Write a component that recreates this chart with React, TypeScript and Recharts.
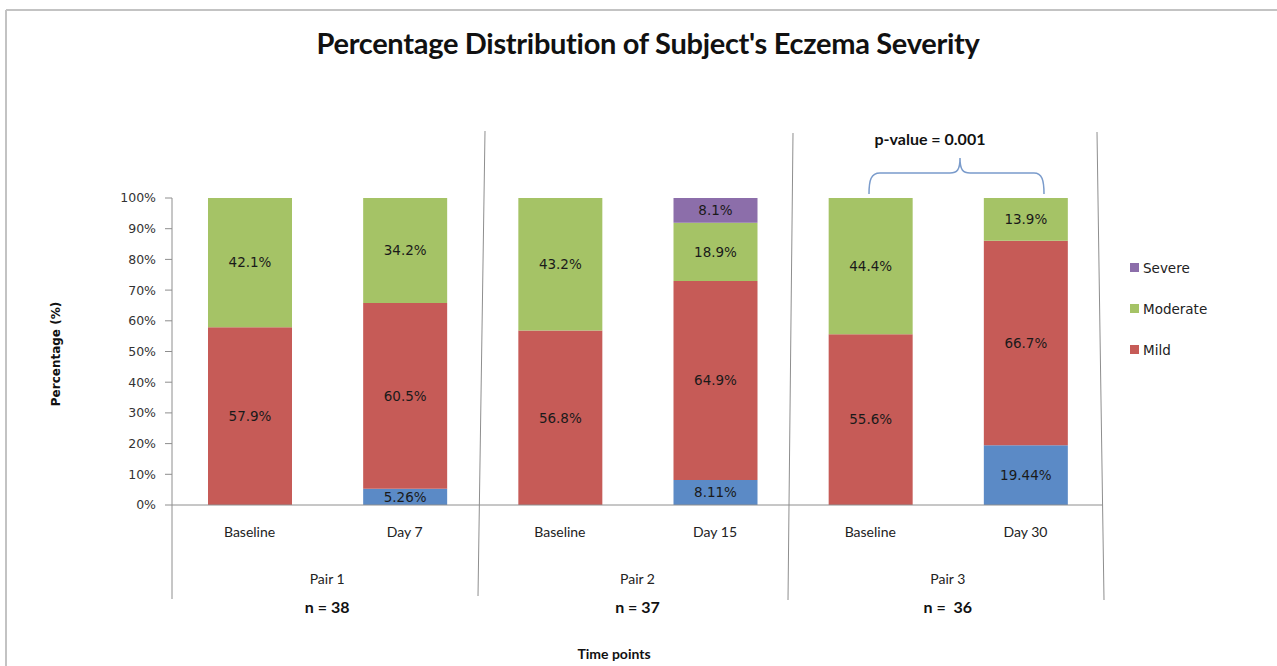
import React from 'react'
import { Bar, BarChart, XAxis, YAxis, LabelList } from 'recharts'

// categories along the bottom, grouped in pairs
const timePoints = ['Baseline', 'Day 7', 'Baseline', 'Day 15', 'Baseline', 'Day 30']
const pairs = ['Pair 1', 'Pair 1', 'Pair 2', 'Pair 2', 'Pair 3', 'Pair 3']
const pairLabels = ['Pair 1', 'Pair 2', 'Pair 3']
const nCounts = ['n = 38', 'n = 37', 'n =  36']

// percentage per severity (blue segment has no legend entry)
const clear = [0, 5.26, 0, 8.11, 0, 19.44]
const mild = [57.9, 60.5, 56.8, 64.9, 55.6, 66.7]
const moderate = [42.1, 34.2, 43.2, 18.9, 44.4, 13.9]
const severe = [0, 0, 0, 8.1, 0, 0]

const yTicks = [0, 0.1, 0.2, 0.3, 0.4, 0.5, 0.6, 0.7, 0.8, 0.9, 1]

const legendItems = [
  { name: 'Severe', color: '#8C6EAA' },
  { name: 'Moderate', color: '#A5C366' },
  { name: 'Mild', color: '#C65B57' },
]

const data = timePoints.map((t, i) => ({
  key: `${pairs[i]}-${t}`,
  time: t,
  pair: pairs[i],
  clear: clear[i],
  mild: mild[i],
  moderate: moderate[i],
  severe: severe[i],
}))

const labelFont = 'DejaVu Sans, Verdana, sans-serif'
const calibri = 'Lato, "Open Sans", sans-serif'
const axisGray = '#8E8E8E'

const fmt = (v: any) => (v ? `${v}%` : '')

const TimeTick = (props: any) => {
  const { x, y, payload } = props
  const idx = payload.index
  return (
    <text x={x} y={y + 24} textAnchor="middle" fontFamily={calibri} fontSize={14} fill="#222">
      {timePoints[idx] ?? payload.value}
    </text>
  )
}

const PairTick = (props: any) => {
  const { x, y, payload } = props
  const i = pairLabels.indexOf(payload.value)
  return (
    <g>
      <text x={x} y={y + 16} textAnchor="middle" fontFamily={calibri} fontSize={14} fill="#222">
        {payload.value}
      </text>
      <text x={x} y={y + 45} textAnchor="middle" fontFamily={calibri} fontSize={16} fontWeight="bold" fill="#111" style={{ whiteSpace: 'pre' }}>
        {nCounts[i]}
      </text>
    </g>
  )
}

const labelStyle = { fontFamily: labelFont, fontSize: 13.5, fill: '#1a1a1a' }

export default function App() {
  return (
    <div style={{ position: 'absolute', left: 0, top: 0, width: 1277, height: 666, background: '#fff' }}>
      <BarChart
        width={1277}
        height={666}
        data={data}
        stackOffset="expand"
        margin={{ top: 198, right: 174, left: 112, bottom: 36 }}
      >
        <XAxis
          dataKey="key"
          height={55}
          stroke={axisGray}
          tickLine={false}
          tick={<TimeTick />}
          interval={0}
        />
        <XAxis
          xAxisId="pair"
          dataKey="pair"
          allowDuplicatedCategory={false}
          height={70}
          axisLine={false}
          tickLine={false}
          tick={<PairTick />}
          interval={0}
        />
        <YAxis
          width={60}
          domain={[0, 1]}
          ticks={yTicks}
          stroke={axisGray}
          tickSize={7}
          tickMargin={9}
          tick={{ fontFamily: labelFont, fontSize: 12.5, fill: '#333' }}
          tickFormatter={(v) => `${Math.round(v * 100)}%`}
        />
        <Bar dataKey="clear" stackId="a" fill="#5B8AC6" barSize={84} isAnimationActive={false}>
          <LabelList dataKey="clear" position="center" formatter={fmt} style={labelStyle} />
        </Bar>
        <Bar dataKey="mild" stackId="a" fill="#C65B57" barSize={84} isAnimationActive={false}>
          <LabelList dataKey="mild" position="center" formatter={fmt} style={labelStyle} />
        </Bar>
        <Bar dataKey="moderate" stackId="a" fill="#A5C366" barSize={84} isAnimationActive={false}>
          <LabelList dataKey="moderate" position="center" formatter={fmt} style={labelStyle} />
        </Bar>
        <Bar dataKey="severe" stackId="a" fill="#8C6EAA" barSize={84} isAnimationActive={false}>
          <LabelList dataKey="severe" position="center" formatter={fmt} style={labelStyle} />
        </Bar>
      </BarChart>

      {/* legend (blue series intentionally left out, as in the source) */}
      <div style={{ position: 'absolute', left: 1130, top: 247, fontFamily: labelFont, fontSize: 13.5, color: '#222' }}>
        {legendItems.map((it) => (
          <div key={it.name} style={{ display: 'flex', alignItems: 'center', height: 41 }}>
            <span style={{ width: 9, height: 9, background: it.color, display: 'inline-block', marginRight: 4 }} />
            {it.name}
          </div>
        ))}
      </div>

      {/* annotations drawn on top: frame, pair separators, brace, titles */}
      <svg width={1277} height={666} style={{ position: 'absolute', left: 0, top: 0, pointerEvents: 'none' }}>
        <line x1={6} y1={10} x2={1277} y2={10} stroke="#C3C3C3" strokeWidth={2} />
        <line x1={6} y1={10} x2={6} y2={666} stroke="#C3C3C3" strokeWidth={2} />
        <line x1={172} y1={505} x2={172} y2={599} stroke={axisGray} strokeWidth={1} />
        <line x1={485} y1={131} x2={478} y2={596} stroke={axisGray} strokeWidth={1} />
        <line x1={793} y1={133} x2={788} y2={600} stroke={axisGray} strokeWidth={1} />
        <line x1={1097} y1={132} x2={1104} y2={600} stroke={axisGray} strokeWidth={1} />
        <path
          d="M869,194 C869,180 871,173 880,173 L950,173 C957,173 960,170 960,158 C960,170 963,173 970,173 L1034,173 C1042,173 1044,180 1044,194"
          fill="none"
          stroke="#7A9BCB"
          strokeWidth={1.5}
        />
        <text x={930} y={145} textAnchor="middle" fontFamily={calibri} fontSize={16} fontWeight="bold" fill="#111">
          p-value = 0.001
        </text>
        <text x={648} y={54} textAnchor="middle" fontFamily={calibri} fontSize={29} fontWeight="bold" fill="#111" letterSpacing={-0.3}>
          Percentage Distribution of Subject's Eczema Severity
        </text>
        <text
          x={60}
          y={354}
          transform="rotate(-90 60 354)"
          textAnchor="middle"
          fontFamily={labelFont}
          fontSize={12}
          fontWeight="bold"
          fill="#111"
        >
          Percentage (%)
        </text>
        <text x={614} y={659} textAnchor="middle" fontFamily={calibri} fontSize={14} fontWeight="bold" fill="#111">
          Time points
        </text>
      </svg>
    </div>
  )
}
